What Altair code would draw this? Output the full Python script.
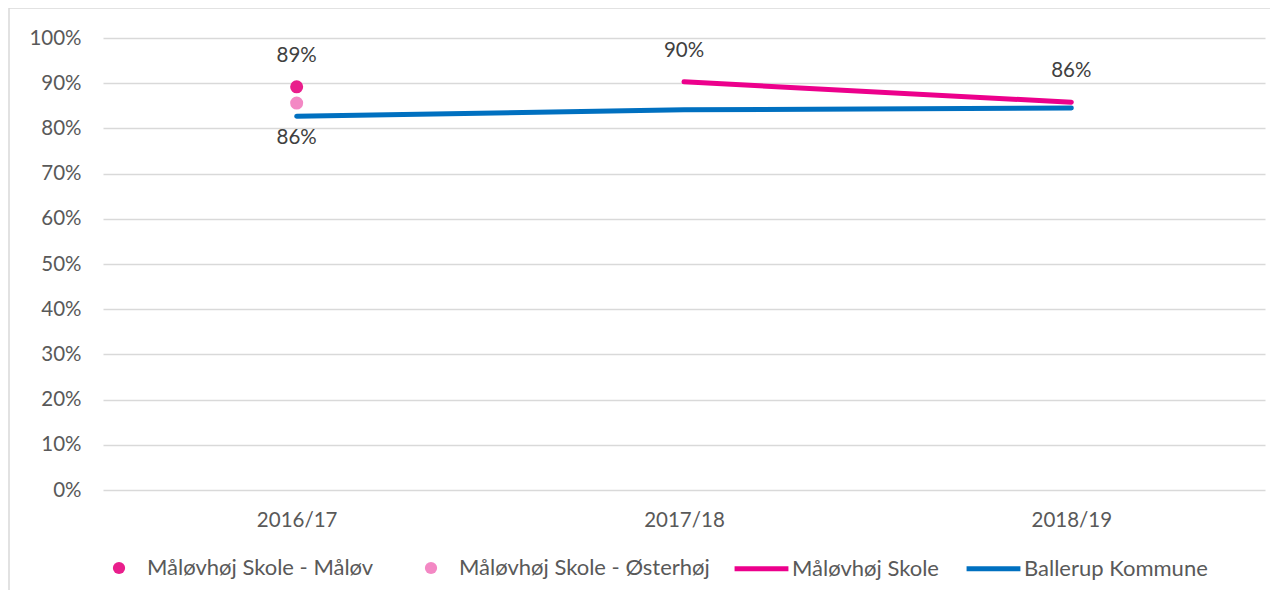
import altair as alt
import pandas as pd

years = ["2016/17", "2017/18", "2018/19"]
names = ["Måløvhøj Skole - Måløv", "Måløvhøj Skole - Østerhøj", "Måløvhøj Skole", "Ballerup Kommune"]
maalov = [0.892, None, None]
osterhoj = [0.856, None, None]
skole = [None, 0.903, 0.858]
ballerup = [0.827, 0.841, 0.845]
point_colors = ["#E91E8C", "#F388C4"]
line_colors = ["#EC008C", "#0070C0"]
y_ticks = [0, 0.1, 0.2, 0.3, 0.4, 0.5, 0.6, 0.7, 0.8, 0.9, 1.0]

rows = []
for name, vals in zip(names, [maalov, osterhoj, skole, ballerup]):
    for yr, v in zip(years, vals):
        if v is not None:
            rows.append({"year": yr, "series": name, "value": v})
df = pd.DataFrame(rows)

FONT = "Lato"
FS = 20.5
LFS = 22
W, H = 1162, 452

x = alt.X("year:N", scale=alt.Scale(type="point", domain=years, padding=0.5),
          axis=alt.Axis(title=None, domain=False, ticks=False, grid=False,
                        labelPadding=20, labelFontSize=FS, labelColor="#595959",
                        labelFont=FONT, labelAngle=0))
y = alt.Y("value:Q", scale=alt.Scale(domain=[0, 1], nice=False),
          axis=alt.Axis(title=None, domain=False, ticks=False, values=y_ticks,
                        format=".0%", gridColor="#D9D9D9", gridWidth=1.5,
                        labelPadding=22, labelFontSize=FS, labelColor="#595959",
                        labelFont=FONT))

base = alt.Chart(df)

frame = alt.Chart(pd.DataFrame({"k": [0]})).mark_rect(
    fill=None, stroke="#D9D9D9", strokeWidth=1.5
).encode(x=alt.value(-94), x2=alt.value(W + 60), y=alt.value(-30), y2=alt.value(H + 200))

lines = base.transform_filter(
    alt.FieldOneOfPredicate(field="series", oneOf=names[2:])
).mark_line(strokeWidth=5, strokeCap="round").encode(
    x=x, y=y,
    stroke=alt.Stroke("series:N", scale=alt.Scale(domain=names[2:], range=line_colors),
                      legend=alt.Legend(title=None, orient="none", legendX=629, legendY=501,
                                        direction="horizontal", symbolType="stroke",
                                        symbolSize=2900, symbolStrokeWidth=5,
                                        labelOffset=1, columnPadding=17, labelLimit=0,
                                        labelFont=FONT, labelFontSize=LFS,
                                        labelColor="#595959"))
)

points = base.transform_filter(
    alt.FieldOneOfPredicate(field="series", oneOf=names[:2])
).mark_circle(size=170, opacity=1).encode(
    x=x, y=y,
    fill=alt.Fill("series:N", scale=alt.Scale(domain=names[:2], range=point_colors),
                  legend=alt.Legend(title=None, orient="none", legendX=5, legendY=519,
                                    direction="horizontal", symbolType="circle",
                                    symbolSize=150, labelOffset=17, columnPadding=46,
                                    labelLimit=0,
                                    labelFont=FONT, labelFontSize=LFS,
                                    labelColor="#595959"))
)

text_above = base.transform_filter(
    alt.FieldOneOfPredicate(field="series", oneOf=[names[0], names[2]])
).mark_text(dy=-31, fontSize=FS, font=FONT, color="#404040").encode(
    x=x, y=y, text=alt.Text("value:Q", format=".0%")
)

text_below = base.transform_filter(
    alt.FieldEqualPredicate(field="series", equal=names[1])
).mark_text(dy=35, fontSize=FS, font=FONT, color="#404040").encode(
    x=x, y=y, text=alt.Text("value:Q", format=".0%")
)

chart = alt.layer(frame, lines, points, text_above, text_below).resolve_scale(
    fill="independent", stroke="independent"
).properties(
    width=W, height=H,
    autosize=alt.AutoSizeParams(type="none"),
    padding={"left": 95, "top": 30, "right": 5, "bottom": 100},
    background="white",
).configure_view(stroke=None)

chart.save("out.html", embed_options={"renderer": "svg", "actions": False})
